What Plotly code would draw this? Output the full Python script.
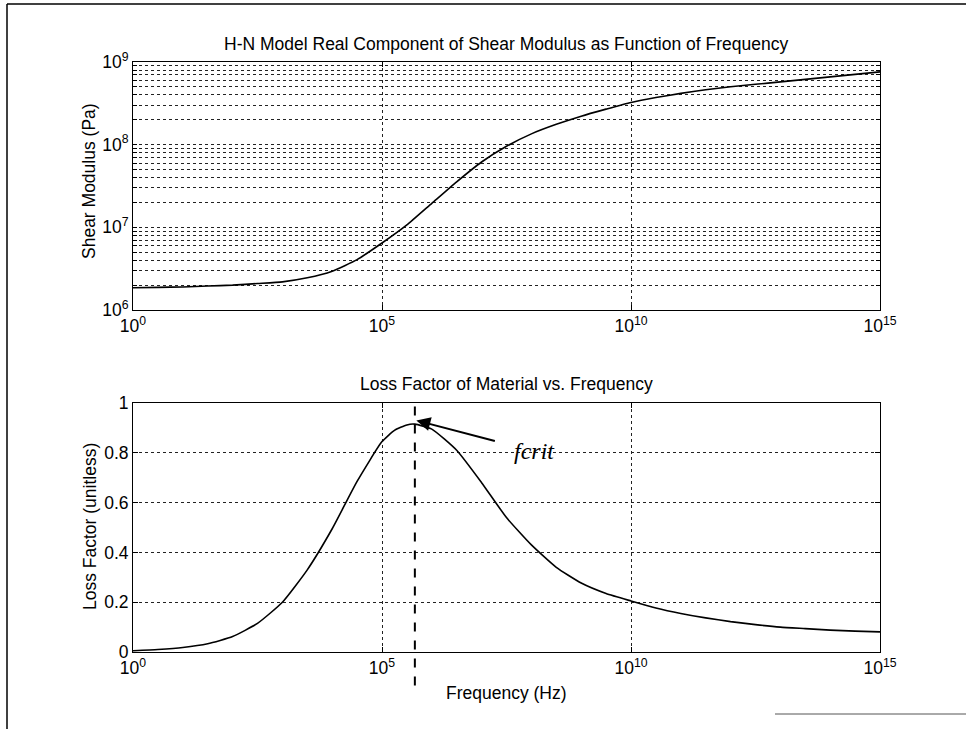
import math
import plotly.graph_objects as go

# ---------------- data ----------------
# Top panel: real component of shear modulus (Pa) vs frequency (Hz)
mod_freq_hz = [1e0, 3.16e0, 1e1, 3.16e1, 1e2, 3.16e2, 1e3, 3.16e3, 1e4, 3.16e4, 1e5, 3.16e5,
               1e6, 3.16e6, 1e7, 3.16e7, 1e8, 3.16e8, 1e9, 3.16e9, 1e10, 3.16e10, 1e11, 3.16e11,
               1e12, 3.16e12, 1e13, 3.16e13, 1e14, 3.16e14, 1e15]
shear_modulus_pa = [1.86e6, 1.88e6, 1.9e6, 1.95e6, 2.0e6, 2.09e6, 2.19e6, 2.45e6, 2.95e6, 4.07e6,
                    6.46e6, 1.07e7, 1.95e7, 3.55e7, 6.17e7, 9.55e7, 1.35e8, 1.76e8, 2.21e8, 2.69e8,
                    3.24e8, 3.72e8, 4.17e8, 4.62e8, 5.01e8, 5.37e8, 5.75e8, 6.17e8, 6.61e8, 7.08e8,
                    7.59e8]

# Bottom panel: loss factor (unitless) vs frequency (Hz)
loss_freq_hz = [1e0, 3.16e0, 1e1, 3.16e1, 1e2, 3.16e2, 1e3, 3.16e3, 1e4, 3.16e4, 1e5, 1.78e5,
                3.16e5, 4.57e5, 1e6, 3.16e6, 1e7, 3.16e7, 1e8, 3.16e8, 1e9, 3.16e9, 1e10,
                3.16e10, 1e11, 3.16e11, 1e12, 3.16e12, 1e13, 3.16e13, 1e14, 3.16e14, 1e15]
loss_factor = [0.005, 0.01, 0.018, 0.033, 0.062, 0.115, 0.20, 0.33, 0.495, 0.685, 0.845, 0.89,
               0.912, 0.915, 0.895, 0.81, 0.68, 0.54, 0.43, 0.34, 0.277, 0.235, 0.205,
               0.177, 0.155, 0.137, 0.122, 0.11, 0.10, 0.094, 0.088, 0.084, 0.081]

f_crit_hz = 4.57e5

x_tick_vals = [1e0, 1e5, 1e10, 1e15]
x_tick_text = ["10<sup>0</sup>", "10<sup>5</sup>", "10<sup>10</sup>", "10<sup>15</sup>"]
mod_decades = [6, 7, 8]
mod_tick_vals = [m * 10 ** d for d in mod_decades for m in range(1, 10)] + [1e9]
mod_tick_text = [("10<sup>%d</sup>" % d if m == 1 else "") for d in mod_decades for m in range(1, 10)] + ["10<sup>9</sup>"]
loss_tick_vals = [0, 0.2, 0.4, 0.6, 0.8, 1]
loss_tick_text = ["0", "0.2", "0.4", "0.6", "0.8", "1"]

title_top = "H-N Model Real Component of Shear Modulus as Function of Frequency"
title_bottom = "Loss Factor of Material vs. Frequency"
ylabel_top = "Shear Modulus (Pa)"
ylabel_bottom = "Loss Factor (unitless)"
xlabel = "Frequency (Hz)"

# ---------------- layout helpers ----------------
W, H = 966, 729
def px(x):
    return x / W
def py(y):
    return 1 - y / H

FONT = "Liberation Sans, Arial, sans-serif"
FS = 17.5
GRID = "#222222"

fig = go.Figure()
fig.add_trace(go.Scatter(x=mod_freq_hz, y=shear_modulus_pa, mode="lines",
                         line=dict(color="black", width=1.6, shape="spline", smoothing=0.5),
                         xaxis="x", yaxis="y", showlegend=False, hoverinfo="skip"))
fig.add_trace(go.Scatter(x=loss_freq_hz, y=loss_factor, mode="lines",
                         line=dict(color="black", width=1.6, shape="spline", smoothing=0.5),
                         xaxis="x2", yaxis="y2", showlegend=False, hoverinfo="skip"))

common_axis = dict(showline=True, linecolor="black", linewidth=1, mirror="ticks",
                   ticks="inside", ticklen=5, tickcolor="black",
                   showgrid=True, gridcolor=GRID, gridwidth=1, griddash="dot",
                   zeroline=False, automargin=False,
                   tickfont=dict(family=FONT, size=FS, color="black"))

fig.update_layout(
    width=W, height=H, template="none",
    paper_bgcolor="white", plot_bgcolor="white",
    margin=dict(l=0, r=0, t=0, b=0),
    showlegend=False,
    xaxis=dict(common_axis, type="log", range=[0, 15], domain=[px(133), px(880)],
               anchor="y", tickvals=x_tick_vals, ticktext=x_tick_text),
    yaxis=dict(common_axis, type="log", range=[6, 9], domain=[py(310), py(62)],
               anchor="x", tickvals=mod_tick_vals, ticktext=mod_tick_text, ticklen=4),
    xaxis2=dict(common_axis, type="log", range=[0, 15], domain=[px(133), px(880)],
                anchor="y2", tickvals=x_tick_vals, ticktext=x_tick_text),
    yaxis2=dict(common_axis, range=[0, 1], domain=[py(652), py(403)],
                anchor="x2", tickvals=loss_tick_vals, ticktext=loss_tick_text),
)

# outer figure frame (partial, like the scanned page)
frame = dict(type="line", xref="paper", yref="paper", line=dict(color="black", width=1.5))
fig.add_shape(frame, x0=px(7), x1=px(7), y0=py(4), y1=0)
fig.add_shape(frame, x0=px(7), x1=1, y0=py(4), y1=py(4))
fig.add_shape(dict(frame, line=dict(color="#555555", width=1)), x0=px(775), x1=1, y0=py(714), y1=py(714))

# dashed f_crit marker
fig.add_shape(type="line", xref="x2", yref="y2 domain", x0=f_crit_hz, x1=f_crit_hz,
              y0=-0.135, y1=1.0, line=dict(color="black", width=2, dash="dash"))

# titles and axis labels
tfont = dict(family=FONT, size=FS, color="black")
center = dict(xref="paper", yref="paper", showarrow=False, xanchor="center", yanchor="middle", font=tfont)
fig.add_annotation(center, text=title_top, x=px(506), y=py(44))
fig.add_annotation(center, text=title_bottom, x=px(506), y=py(384))
fig.add_annotation(center, text=ylabel_top, x=px(89), y=py(181), textangle=-90)
fig.add_annotation(center, text=ylabel_bottom, x=px(90), y=py(527), textangle=-90)
fig.add_annotation(center, text=xlabel, x=px(506), y=py(693))

# f_crit arrow and label
fig.add_annotation(text="", xref="x2", yref="y2", x=math.log10(f_crit_hz) + 0.03, y=0.93,
                   ax=80, ay=21, showarrow=True, arrowhead=2, arrowsize=1.4,
                   arrowwidth=2, arrowcolor="black")
fig.add_annotation(text="<i>fcrit</i>", xref="paper", yref="paper", x=px(534), y=py(451),
                   xanchor="center", yanchor="middle", showarrow=False,
                   font=dict(family="Liberation Serif, Times New Roman, serif", size=24, color="black"))

fig.write_html("out.html", config={"displayModeBar": False},
               post_script="document.body.style.margin='0';")
